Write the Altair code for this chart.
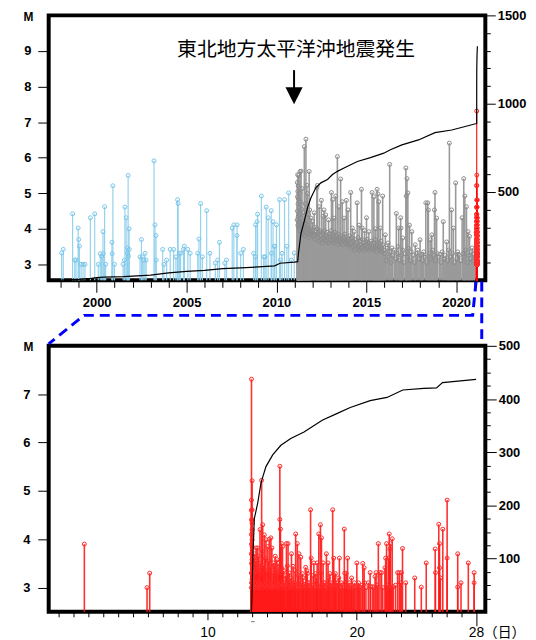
import altair as alt
import pandas as pd

FONT = "Liberation Sans"
JP = "Noto Sans CJK JP"

# ---------------- top panel: events 1997-2021 (year, M) ----------------
blue_events = [
    (1998.05, 3.32), (1998.14, 3.42), (1998.66, 4.42), (1998.78, 3.12), (1998.85, 3.12),
    (1998.97, 4.02), (1999.00, 3.70), (1999.04, 3.51), (1999.13, 3.00), (1999.24, 3.00),
    (1999.35, 3.00), (1999.65, 4.31), (1999.89, 4.42), (2000.09, 3.00), (2000.20, 3.30),
    (2000.27, 3.23), (2000.35, 3.92), (2000.36, 3.30), (2000.44, 4.62), (2000.50, 3.00),
    (2000.85, 3.62), (2000.86, 3.30), (2000.90, 5.21), (2000.99, 3.00), (2001.47, 3.00),
    (2001.54, 3.12), (2001.57, 4.61), (2001.64, 4.31), (2001.70, 3.32), (2001.71, 3.46),
    (2001.75, 5.50), (2001.77, 3.23), (2001.80, 4.00), (2001.81, 3.42), (2002.41, 3.21),
    (2002.49, 3.70), (2002.54, 3.21), (2002.62, 3.12), (2002.69, 3.31), (2002.75, 3.12),
    (2003.19, 5.91), (2003.24, 4.11), (2003.30, 3.81), (2003.31, 3.12), (2003.67, 3.42),
    (2003.74, 3.00), (2003.89, 3.12), (2004.09, 3.42), (2004.28, 3.42), (2004.41, 3.21),
    (2004.50, 4.82), (2004.53, 4.71), (2004.60, 3.31), (2004.67, 3.31), (2004.83, 3.42),
    (2004.88, 3.51), (2005.07, 3.42), (2005.20, 3.31), (2005.62, 3.31), (2005.69, 3.71),
    (2005.78, 4.71), (2005.88, 3.21), (2006.12, 4.51), (2006.30, 3.31), (2006.60, 3.03),
    (2006.73, 3.12), (2006.83, 3.62), (2007.13, 3.03), (2007.22, 3.12), (2007.54, 4.02),
    (2007.63, 4.11), (2007.80, 3.81), (2007.81, 4.11), (2008.01, 3.31), (2008.16, 3.42),
    (2008.73, 3.31), (2008.82, 3.21), (2008.84, 4.11), (2008.92, 4.20), (2008.95, 4.41),
    (2009.16, 4.92), (2009.29, 3.21), (2009.36, 3.21), (2009.43, 4.61), (2009.54, 4.31),
    (2009.71, 4.51), (2009.72, 3.31), (2009.81, 4.20), (2009.88, 3.51), (2009.91, 3.51),
    (2010.00, 4.11), (2010.17, 4.82), (2010.22, 3.12), (2010.31, 3.31), (2010.45, 4.82),
    (2010.58, 3.51), (2010.68, 5.01), (2010.83, 3.12), (2010.99, 3.32),
]

gray_peaks = [
    (2011.16, 5.30), (2011.17, 4.90), (2011.18, 5.52), (2011.19, 5.05), (2011.20, 4.70),
    (2011.21, 5.20), (2011.22, 4.85), (2011.24, 5.50), (2011.26, 4.60), (2011.28, 5.00),
    (2011.31, 5.61), (2011.33, 4.75), (2011.37, 5.62), (2011.40, 4.55), (2011.42, 5.13),
    (2011.47, 4.45), (2011.55, 6.31), (2011.60, 4.70), (2011.64, 6.52), (2011.69, 5.22),
    (2011.73, 4.99), (2011.78, 4.40), (2011.82, 5.61), (2011.85, 4.53), (2011.92, 4.30),
    (2012.01, 4.20), (2012.10, 4.45), (2012.25, 5.15), (2012.28, 5.22), (2012.38, 4.62),
    (2012.50, 4.80), (2012.60, 4.35), (2012.65, 4.53), (2012.74, 4.39), (2012.90, 4.25),
    (2013.06, 5.02), (2013.13, 4.82), (2013.20, 4.30), (2013.30, 4.92), (2013.39, 6.03),
    (2013.48, 4.62), (2013.57, 5.40), (2013.66, 4.76), (2013.76, 4.30), (2013.89, 4.80),
    (2013.98, 4.53), (2014.13, 5.02), (2014.22, 4.02), (2014.32, 3.92), (2014.49, 4.73),
    (2014.60, 4.10), (2014.73, 5.11), (2014.77, 4.02), (2014.90, 3.95), (2015.01, 4.31),
    (2015.14, 3.92), (2015.32, 5.02), (2015.42, 4.90), (2015.50, 4.00), (2015.60, 5.11),
    (2015.64, 4.98), (2015.69, 4.76), (2015.78, 4.02), (2015.91, 4.92), (2016.06, 3.83),
    (2016.21, 3.60), (2016.30, 5.81), (2016.42, 3.46), (2016.67, 4.43), (2016.80, 4.02),
    (2016.91, 4.31), (2016.93, 4.02), (2017.02, 3.74), (2017.20, 5.71), (2017.22, 4.92),
    (2017.26, 5.41), (2017.31, 5.01), (2017.40, 4.10), (2017.53, 3.92), (2017.72, 3.55),
    (2017.99, 3.69), (2018.08, 3.28), (2018.31, 4.73), (2018.42, 4.73), (2018.45, 4.53),
    (2018.55, 3.69), (2018.64, 3.83), (2018.79, 4.53), (2018.82, 5.02), (2018.91, 4.30),
    (2019.10, 3.28), (2019.28, 4.20), (2019.47, 3.63), (2019.62, 6.41), (2019.74, 4.53),
    (2019.84, 4.02), (2019.97, 5.29), (2020.11, 3.28), (2020.33, 4.31), (2020.42, 5.41),
    (2020.48, 4.92), (2020.57, 4.62), (2020.66, 3.92), (2020.74, 3.79), (2020.89, 3.46),
    (2020.98, 3.28),
]

gray_base_year = [
    2011.15, 2011.17, 2011.19, 2011.21, 2011.23, 2011.25, 2011.27, 2011.29, 2011.32, 2011.35,
    2011.38, 2011.41, 2011.44, 2011.46, 2011.49, 2011.52, 2011.54, 2011.57, 2011.59, 2011.62,
    2011.66, 2011.68, 2011.71, 2011.75, 2011.77, 2011.80, 2011.84, 2011.87, 2011.90, 2011.94,
    2011.97,
    2012.03, 2012.07, 2012.11, 2012.14, 2012.18, 2012.22, 2012.26, 2012.30, 2012.33, 2012.37,
    2012.41, 2012.45, 2012.48, 2012.52, 2012.56, 2012.59, 2012.63, 2012.67, 2012.70, 2012.74,
    2012.78, 2012.82, 2012.86, 2012.89, 2012.93, 2012.97, 2013.01, 2013.05, 2013.08, 2013.12,
    2013.16, 2013.20, 2013.24, 2013.27, 2013.31, 2013.35, 2013.39, 2013.43, 2013.46, 2013.50,
    2013.54, 2013.58, 2013.62, 2013.66, 2013.69, 2013.73, 2013.77, 2013.81, 2013.85, 2013.88,
    2013.92, 2013.96,
    2014.01, 2014.05, 2014.08, 2014.13, 2014.16, 2014.21, 2014.24, 2014.29, 2014.32, 2014.37,
    2014.40, 2014.45, 2014.48, 2014.53, 2014.56, 2014.61, 2014.64, 2014.69, 2014.72, 2014.77,
    2014.80, 2014.85, 2014.88, 2014.93, 2014.96, 2015.01, 2015.04, 2015.09, 2015.12, 2015.17,
    2015.20, 2015.25, 2015.28, 2015.33, 2015.36, 2015.41, 2015.44, 2015.49, 2015.52, 2015.57,
    2015.60, 2015.65, 2015.68, 2015.73, 2015.76, 2015.81, 2015.84, 2015.89, 2015.92, 2015.97,
    2016.02, 2016.09, 2016.15, 2016.24, 2016.31, 2016.38, 2016.46, 2016.55, 2016.62, 2016.71,
    2016.77, 2016.85, 2016.94, 2017.03, 2017.09, 2017.17, 2017.27, 2017.35, 2017.44, 2017.50,
    2017.60, 2017.67, 2017.78, 2017.86, 2017.93, 2018.02, 2018.12, 2018.19, 2018.27, 2018.36,
    2018.50, 2018.58, 2018.69, 2018.75, 2018.86, 2018.95, 2019.05, 2019.15, 2019.22, 2019.33,
    2019.40, 2019.52, 2019.58, 2019.68, 2019.79, 2019.90, 2020.03, 2020.08, 2020.17, 2020.25,
    2020.37, 2020.45, 2020.53, 2020.61, 2020.70, 2020.79, 2020.85, 2020.93, 2021.02,
]
gray_base_mag = [
    4.25, 4.50, 4.10, 4.35, 4.05, 4.20, 4.40, 3.95, 4.15, 4.05,
    4.30, 3.90, 4.10, 4.00, 3.85, 4.20, 3.95, 4.05, 3.80, 4.15,
    3.90, 4.00, 3.85, 4.10, 3.90, 3.75, 4.00, 3.85, 3.95, 3.80,
    3.90,
    3.95, 3.80, 4.05, 3.70, 3.90, 3.85, 4.00, 3.75, 3.90, 3.65,
    3.95, 3.80, 3.70, 3.90, 3.60, 3.85, 3.75, 3.95, 3.70, 3.80,
    3.65, 3.90, 3.75, 3.60, 3.85, 3.70, 3.80, 3.95, 3.65, 3.85,
    3.70, 3.60, 3.90, 3.75, 3.65, 3.80, 3.70, 3.55, 3.85, 3.65,
    3.75, 3.60, 3.80, 3.70, 3.55, 3.75, 3.65, 3.85, 3.60, 3.70,
    3.55, 3.65,
    3.70, 3.55, 3.80, 3.60, 3.45, 3.75, 3.50, 3.65, 3.40, 3.70,
    3.55, 3.60, 3.45, 3.75, 3.50, 3.40, 3.65, 3.55, 3.45, 3.70,
    3.50, 3.60, 3.40, 3.55, 3.65, 3.45, 3.70, 3.50, 3.40, 3.60,
    3.55, 3.45, 3.65, 3.50, 3.40, 3.60, 3.45, 3.70, 3.50, 3.35,
    3.55, 3.45, 3.60, 3.40, 3.50, 3.65, 3.45, 3.35, 3.55, 3.40,
    3.30, 3.10, 3.45, 3.20, 3.35, 3.05, 3.25, 3.40, 3.15, 3.30,
    3.50, 3.10, 3.25, 3.40, 3.05, 3.30, 3.20, 3.45, 3.10, 3.35,
    3.25, 3.05, 3.30, 3.40, 3.15, 3.25, 3.10, 3.35, 3.20, 3.05,
    3.30, 3.15, 3.40, 3.25, 3.10, 3.30, 3.20, 3.05, 3.35, 3.15,
    3.25, 3.10, 3.40, 3.20, 3.30, 3.05, 3.15, 3.35, 3.25, 3.10,
    3.30, 3.20, 3.40, 3.05, 3.25, 3.15, 3.35, 3.10, 3.20,
]

# cumulative number (right axis) before February 2021
cum_top = [
    (1997.33, 0), (1998.0, 2), (1999.0, 6), (1999.7, 11), (2000.0, 15), (2000.4, 18),
    (2001.5, 21), (2003.0, 30), (2004.0, 42), (2005.0, 51), (2006.0, 57), (2007.0, 66),
    (2008.0, 71), (2009.0, 76), (2009.9, 82), (2010.2, 97), (2011.0, 103), (2011.18, 106),
    (2011.22, 150), (2011.27, 188), (2011.36, 263), (2011.55, 337), (2011.73, 412),
    (2011.92, 468), (2012.19, 524), (2012.47, 552), (2012.84, 571), (2013.12, 599),
    (2013.39, 617), (2013.76, 636), (2014.5, 673), (2015.23, 695), (2015.97, 720),
    (2016.34, 739), (2016.98, 767), (2017.9, 795), (2018.82, 836), (2019.75, 851),
    (2020.66, 875), (2021.13, 888),
]

# ---------------- bottom panel: February 2021 (day, M) ----------------
red_events = [
    (1.75, 3.90), (5.95, 3.00), (6.13, 3.30),
    (12.95, 7.31), (12.94, 3.00), (12.95, 3.10), (12.94, 3.30), (12.95, 3.50), (12.94, 3.70),
    (12.95, 3.90), (12.94, 4.10), (12.95, 4.40), (12.94, 4.60), (12.95, 4.81),
    (12.99, 5.21), (12.99, 4.61), (12.99, 4.41), (12.99, 4.33), (12.99, 4.20), (12.99, 3.99),
    (12.99, 3.85), (12.99, 3.58), (12.99, 3.31), (12.99, 3.17),
    (13.26, 3.82), (13.37, 3.82), (13.52, 4.20), (13.63, 5.22), (13.70, 4.30), (13.81, 4.09),
    (13.92, 3.99), (14.03, 3.85), (14.14, 4.00), (14.25, 4.03), (14.32, 3.82), (14.43, 3.51),
    (14.54, 3.65), (14.65, 3.58), (14.76, 3.34), (14.85, 5.51), (14.85, 4.41), (14.89, 4.21),
    (14.96, 3.91), (15.03, 3.85), (15.14, 3.10), (15.29, 3.91), (15.40, 3.91), (15.52, 3.10),
    (15.63, 3.70), (15.74, 3.44), (15.83, 3.10), (15.91, 4.11), (16.02, 3.91), (16.13, 3.70),
    (16.25, 3.63), (16.36, 3.29), (16.47, 3.07), (16.58, 3.42), (16.69, 3.29), (16.80, 3.10),
    (16.91, 4.61), (16.95, 3.61), (17.13, 3.51), (17.24, 3.29), (17.35, 3.51), (17.46, 4.11),
    (17.57, 4.30), (17.64, 4.03), (17.75, 3.51), (17.86, 3.10), (17.97, 3.70), (18.08, 3.51),
    (18.20, 3.29), (18.39, 4.61), (18.46, 3.61), (18.57, 3.29), (18.68, 3.10), (18.84, 3.61),
    (18.97, 3.10), (19.17, 4.21), (19.30, 3.29), (19.39, 3.61), (19.50, 3.10), (19.57, 3.00),
    (19.79, 3.00), (19.90, 3.00), (20.01, 3.51), (20.12, 3.10),
    (20.17, 3.02), (20.41, 3.50), (20.50, 3.41), (20.52, 3.10), (20.90, 3.31), (20.94, 3.02),
    (21.07, 3.02), (21.23, 3.23), (21.30, 3.31), (21.45, 3.91), (21.56, 3.31), (21.67, 3.31),
    (21.89, 3.41), (21.94, 3.61), (22.00, 3.91), (22.12, 3.61), (22.18, 4.11), (22.23, 3.80),
    (22.27, 3.91), (22.38, 4.01), (22.45, 3.02), (22.74, 3.31), (22.85, 3.31), (22.93, 3.10),
    (23.00, 3.31), (23.07, 3.81), (23.29, 3.10), (23.89, 3.20), (24.33, 3.01), (24.66, 3.51),
    (25.26, 3.80), (25.28, 3.31), (25.50, 4.31), (25.55, 3.91), (25.55, 3.41), (25.61, 3.20),
    (25.77, 4.21), (26.06, 4.81), (26.06, 3.61), (26.77, 3.70), (26.77, 3.01), (26.99, 3.10),
    (27.48, 3.51), (27.87, 3.31), (27.87, 3.10),
]

# many small aftershocks filling the first days after the mainshock
red_fill = [
    (13.02, 3.40), (13.08, 3.60), (13.10, 3.30), (13.15, 3.70), (13.21, 3.45), (13.24, 3.55),
    (13.30, 3.35), (13.40, 3.65), (13.45, 3.40), (13.55, 3.50), (13.60, 3.30), (13.68, 3.75),
    (13.77, 3.45), (13.88, 3.60), (14.00, 3.35), (14.10, 3.55), (14.21, 3.40), (14.40, 3.30),
    (14.50, 3.45), (14.62, 3.35), (14.73, 3.50), (14.88, 3.30), (15.00, 3.40), (15.10, 3.35),
    (15.22, 3.25), (15.36, 3.45), (15.48, 3.30), (15.60, 3.20), (15.87, 3.35), (16.10, 3.25),
    (16.40, 3.20), (16.65, 3.35), (17.08, 3.25), (17.33, 3.20), (17.60, 3.30), (18.10, 3.20),
    (18.50, 3.25), (18.80, 3.20), (19.20, 3.30), (19.66, 3.20),
]

red_base_day = [
    13.05, 13.12, 13.18, 13.27, 13.33, 13.43, 13.48, 13.57, 13.66, 13.74,
    13.85, 13.97, 14.06, 14.18, 14.28, 14.35, 14.47, 14.58, 14.70, 14.80,
    14.92, 15.07, 15.18, 15.33, 15.44, 15.57, 15.68, 15.78, 15.95, 16.07,
    16.18, 16.30, 16.41, 16.53, 16.63, 16.75, 16.86, 17.02, 17.18, 17.29,
    17.40, 17.52, 17.70, 17.80, 17.92, 18.03, 18.14, 18.26, 18.33, 18.52,
    18.62, 18.75, 18.90, 19.03, 19.10, 19.23, 19.35, 19.45, 19.63, 19.72,
    19.84, 20.06, 20.25, 20.35, 20.62, 20.78, 21.15, 21.38, 21.75, 22.05,
    22.32, 22.60,
]
red_base_mag = [
    3.05, 3.00, 3.10, 3.00, 3.05, 3.10, 3.00, 3.05, 3.00, 3.10,
    3.05, 3.00, 3.10, 3.05, 3.00, 3.00, 3.10, 3.05, 3.00, 3.05,
    3.10, 3.00, 3.05, 3.00, 3.10, 3.00, 3.05, 3.10, 3.00, 3.05,
    3.00, 3.10, 3.05, 3.00, 3.05, 3.10, 3.00, 3.05, 3.00, 3.10,
    3.05, 3.00, 3.05, 3.10, 3.00, 3.05, 3.00, 3.10, 3.05, 3.00,
    3.05, 3.10, 3.00, 3.05, 3.00, 3.10, 3.05, 3.00, 3.05, 3.00,
    3.10, 3.05, 3.00, 3.05, 3.00, 3.10, 3.00, 3.05, 3.00, 3.05,
    3.00, 3.05,
]

cum_bottom = [
    (12.95, 0), (13.0, 50), (13.04, 100), (13.14, 175), (13.37, 205), (13.59, 243),
    (13.92, 273), (14.37, 295), (14.92, 313), (15.58, 326), (16.47, 338), (17.69, 360),
    (18.7, 373), (19.57, 384), (20.9, 397), (22.03, 403), (23.09, 417), (24.5, 420),
    (25.35, 421), (25.75, 431), (28.0, 437),
]

# dashed connector between the panels (bottom-panel coordinates: day, M)
connector = [
    ("a", 0, 28.00, 9.33), ("a", 1, 27.77, 8.63), ("a", 2, 1.73, 8.63), ("a", 3, -0.64, 8.04),
    ("b", 0, 28.38, 9.33), ("b", 1, 28.38, 8.04),
]

annotation = "東北地方太平洋沖地震発生"

# ---------------- frames ----------------
blue_df = pd.DataFrame(blue_events, columns=["year", "M"])
gray_df = pd.DataFrame(gray_peaks + list(zip(gray_base_year, gray_base_mag)), columns=["year", "M"])
red_df = pd.DataFrame(red_events + red_fill + list(zip(red_base_day, red_base_mag)), columns=["day", "M"])
red_df["year"] = 2021.14 + (red_df["day"] - 12.95) / 365.0
cum_top_df = pd.DataFrame(
    cum_top + [(2021.14 + (d - 12.95) / 365.0, 888 + c) for d, c in cum_bottom],
    columns=["year", "count"])
cum_bot_df = pd.DataFrame(cum_bottom, columns=["day", "count"])
conn_df = pd.DataFrame(connector, columns=["path", "ord", "day", "M"])
ann_df = pd.DataFrame({"year": [2011.09], "M": [9.02], "t": [annotation]})
shaft_df = pd.DataFrame({"year": [2010.98], "M": [8.46], "M2": [7.95]})
head_df = pd.DataFrame({"year": [2010.98], "M": [7.74]})

W = 440
H1, H2 = 267, 268

# ---------------- encodings ----------------
x_top = alt.X("year:Q", scale=alt.Scale(domain=[1997.33, 2021.62], nice=False, zero=False),
              axis=alt.Axis(values=list(range(1998, 2022)), format="d",
                            labelExpr="datum.value % 5 == 0 ? datum.label : ''",
                            tickSize={"condition": {"test": "datum.value % 5 == 0", "value": 12}, "value": 7},
                            labelPadding=4, title=None))
y_top = alt.Y("M:Q", scale=alt.Scale(domain=[2.55, 10], nice=False, zero=False),
              axis=alt.Axis(values=[3, 4, 5, 6, 7, 8, 9], tickSize=11, labelPadding=7,
                            title="M", titleAngle=0, titleX=-21, titleY=1,
                            titleAlign="center", titleBaseline="middle"))
y_cnt_top = alt.Y("count:Q", scale=alt.Scale(domain=[0, 1500], nice=False),
                  axis=alt.Axis(orient="right", values=list(range(100, 1600, 100)), format="d",
                                labelExpr="datum.value % 500 == 0 ? datum.label : ''",
                                tickSize={"condition": {"test": "datum.value % 500 == 0", "value": 10}, "value": 5},
                                labelPadding=2, title=None))

x_bot = alt.X("day:Q", scale=alt.Scale(domain=[-0.64, 28.62], nice=False, zero=False),
              axis=alt.Axis(values=list(range(0, 29)), format="d",
                            labelExpr="(datum.value == 10 || datum.value == 20 || datum.value == 28) ? datum.label : (datum.value == 13 ? '-' : '')",
                            tickSize={"condition": [{"test": "datum.value == 28", "value": 14},
                                                    {"test": "datum.value == 10 || datum.value == 20", "value": 8}],
                                      "value": 5},
                            labelPadding={"condition": [{"test": "datum.value == 28", "value": 0},
                                                        {"test": "datum.value == 13", "value": -2}],
                                          "value": 6},
                            labelColor={"condition": {"test": "datum.value == 13", "value": "#888888"}, "value": "black"},
                            labelFontWeight="normal", labelFontSize=14,
                            title="（日）", titleFont=JP, titleFontSize=14, titleFontWeight="normal",
                            titleX=438, titleY=21, titleAlign="left", titleBaseline="middle", titleAngle=0))
y_bot = alt.Y("M:Q", scale=alt.Scale(domain=[2.5, 8], nice=False, zero=False),
              axis=alt.Axis(values=[3, 4, 5, 6, 7], tickSize=11, labelPadding=8,
                            title="M", titleAngle=0, titleX=-21, titleY=1,
                            titleAlign="center", titleBaseline="middle"))
y_cnt_bot = alt.Y("count:Q", scale=alt.Scale(domain=[0, 500], nice=False),
                  axis=alt.Axis(orient="right", values=list(range(25, 525, 25)), format="d",
                                labelExpr="datum.value % 100 == 0 ? datum.label : ''",
                                tickSize={"condition": {"test": "datum.value % 100 == 0", "value": 11}, "value": 5},
                                labelPadding=2, title=None))


def stems(data, x, y, base, color, opacity, width):
    return alt.Chart(data).mark_rule(color=color, strokeWidth=width, opacity=opacity).encode(
        x=x, y=y, y2=alt.datum(base))


def dots(data, x, y, color):
    return alt.Chart(data).mark_point(shape="circle", filled=False, size=16, strokeWidth=1,
                                      color=color, opacity=1).encode(x=x, y=y)


top_events = alt.layer(
    stems(blue_df, x_top, y_top, 2.55, "#8fd0ec", 0.95, 1.2),
    dots(blue_df, x_top, y_top, "#7cc6e8"),
    stems(gray_df, x_top, y_top, 2.55, "#9a9a9a", 1.0, 1.6),
    dots(gray_df, x_top, y_top, "#8c8c8c"),
    stems(red_df, x_top, y_top, 2.55, "#ff0000", 0.9, 1.2),
    dots(red_df, x_top, y_top, "#ff2a2a"),
    alt.Chart(ann_df).mark_text(font=JP, fontSize=20, color="black", align="center",
                                baseline="middle").encode(x=x_top, y=y_top, text="t:N"),
    alt.Chart(shaft_df).mark_rule(color="black", strokeWidth=2).encode(x=x_top, y=y_top, y2="M2:Q"),
    alt.Chart(head_df).mark_point(shape="M-1,-1L1,-1L0,1Z", size=300, filled=True, color="black",
                                  opacity=1).encode(x=x_top, y=y_top),
)
top_line = alt.Chart(cum_top_df).mark_line(color="black", strokeWidth=1.2).encode(x=x_top, y=y_cnt_top)
top = alt.layer(top_events, top_line).resolve_scale(y="independent").properties(width=W, height=H1)

bot_events = alt.layer(
    stems(red_df, x_bot, y_bot, 2.5, "#ff1a1a", 0.9, 1.6),
    dots(red_df, x_bot, y_bot, "#ff2a2a"),
    alt.Chart(conn_df).mark_line(color="#0000ff", strokeWidth=3, strokeDash=[10, 6], clip=False).encode(
        x=x_bot, y=y_bot, detail="path:N", order="ord:Q"),
)
bot_line = alt.Chart(cum_bot_df).mark_line(color="black", strokeWidth=1.2).encode(x=x_bot, y=y_cnt_bot)
bottom = alt.layer(bot_events, bot_line).resolve_scale(y="independent").properties(width=W, height=H2)

chart = alt.vconcat(top, bottom, spacing=66, bounds="flush").configure_view(
    stroke="black", strokeWidth=4
).configure_axis(
    labelFont=FONT, labelFontSize=13, labelFontWeight="bold", labelColor="black",
    tickColor="black", tickWidth=1, domain=False, grid=False,
    titleFont=FONT, titleFontSize=12, titleFontWeight="bold", titleColor="black",
).properties(padding={"left": 12, "top": -3, "right": 0, "bottom": 0})

chart.save("out.html", embed_options={"renderer": "svg", "actions": False})
